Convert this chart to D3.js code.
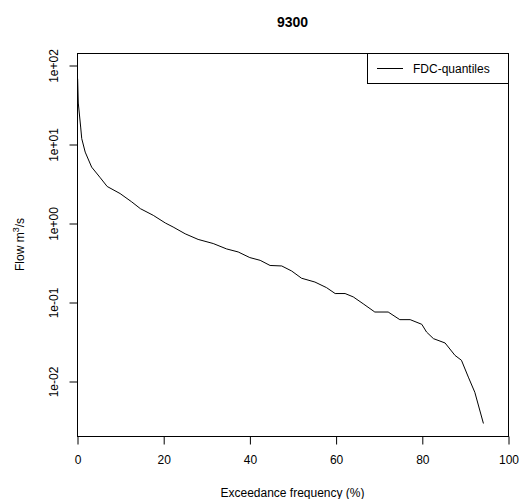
<!DOCTYPE html>
<html>
<head>
<meta charset="utf-8">
<script src="https://cdn.jsdelivr.net/npm/d3@7"></script>
<style>
  body { margin: 0; background: #fff; }
  text { font-family: "Liberation Sans", Arial, sans-serif; fill: #000; }
</style>
</head>
<body>
<div id="chart"></div>
<script>
const TITLE = '9300'
const exceedance = [0.15, 0.3, 0.85, 1.1, 1.9, 3.4, 5.3, 7.0, 10.0, 12.7, 14.7, 17.7, 20.5, 22.3, 25.1, 28.1, 31.6, 34.7, 37.4, 40.1, 42.5, 44.8, 47.5, 49.8, 52.1, 55.2, 57.9, 59.9, 62.2, 64.1, 66.4, 69.1, 72.2, 74.9, 77.3, 80.0, 81.1, 82.7, 85.4, 87.7, 89.2, 90.8, 92.3, 94.3]
const flow = [67, 33, 16.4, 11.7, 7.9, 5.1, 3.8, 2.9, 2.36, 1.85, 1.52, 1.25, 1.0, 0.89, 0.73, 0.62, 0.55, 0.47, 0.43, 0.365, 0.337, 0.29, 0.286, 0.247, 0.2, 0.179, 0.152, 0.128, 0.128, 0.116, 0.095, 0.0747, 0.0747, 0.0598, 0.0598, 0.0522, 0.0417, 0.0344, 0.0303, 0.0211, 0.0183, 0.0112, 0.0072, 0.0029]
const xTicks = [0, 20, 40, 60, 80, 100]
const yTicks = [0.01, 0.1, 1, 10, 100]
const yTickLabels = ['1e-02', '1e-01', '1e+00', '1e+01', '1e+02']
const legendLabel = 'FDC-quantiles'

const W = 520, H = 499
const margin = { left: 77, right: 12, top: 53, bottom: 63 }
const plotW = W - margin.left - margin.right
const plotH = H - margin.top - margin.bottom

const svg = d3.select('#chart')
  .append('svg')
  .attr('width', W)
  .attr('height', H)

const x = d3.scaleLinear().domain([0, 100]).range([0, plotW])
const y = d3.scaleLog().domain([Math.pow(10, -2.696), Math.pow(10, 2.152)]).range([plotH, 0])

const g = svg.append('g')
  .attr('transform', `translate(${margin.left},${margin.top})`)

// curve
const line = d3.line()
  .x((d, i) => x(exceedance[i]))
  .y(d => y(d))

g.append('path')
  .datum(flow)
  .attr('fill', 'none')
  .attr('stroke', '#000')
  .attr('stroke-width', 1)
  .attr('d', line)

// plot box
g.append('rect')
  .attr('x', 0.5)
  .attr('y', 0.5)
  .attr('width', plotW)
  .attr('height', plotH)
  .attr('fill', 'none')
  .attr('stroke', '#000')

// axes
const xAxis = g.append('g')
  .attr('transform', `translate(0.5,${plotH + 0.5})`)
  .call(d3.axisBottom(x).tickValues(xTicks).tickSize(8).tickPadding(11).tickSizeOuter(0))
xAxis.select('.domain').remove()
xAxis.selectAll('text').style('font-size', '12px').attr('font-family', null)

const yAxis = g.append('g')
  .attr('transform', 'translate(0.5,0.5)')
  .call(d3.axisLeft(y).tickValues(yTicks).tickFormat((d, i) => yTickLabels[i]).tickSize(8).tickSizeOuter(0))
yAxis.select('.domain').remove()
yAxis.selectAll('text')
  .style('font-size', '12px')
  .attr('font-family', null)
  .attr('text-anchor', 'middle')
  .attr('x', null)
  .attr('dy', null)
  .attr('transform', 'translate(-24,0) rotate(-90)')
  .attr('dominant-baseline', 'central')

// title
svg.append('text')
  .attr('x', margin.left + plotW / 2)
  .attr('y', 27)
  .attr('text-anchor', 'middle')
  .style('font-size', '14px')
  .style('font-weight', 'bold')
  .text(TITLE)

// axis titles
svg.append('text')
  .attr('x', margin.left + plotW / 2)
  .attr('y', 497)
  .attr('text-anchor', 'middle')
  .style('font-size', '12px')
  .text('Exceedance frequency (%)')

const yt = svg.append('text')
  .attr('transform', `translate(24,${margin.top + plotH / 2}) rotate(-90)`)
  .attr('text-anchor', 'middle')
  .style('font-size', '12px')
yt.append('tspan').text('Flow m')
yt.append('tspan').attr('dy', -5).style('font-size', '9px').text('3')
yt.append('tspan').attr('dy', 5).text('/s')

// legend
const lg = svg.append('g').attr('transform', `translate(367,${margin.top})`)
lg.append('rect')
  .attr('x', 0.5)
  .attr('y', 0.5)
  .attr('width', margin.left + plotW - 367)
  .attr('height', 30)
  .attr('fill', '#fff')
  .attr('stroke', '#000')
lg.append('line')
  .attr('x1', 10).attr('x2', 36)
  .attr('y1', 15.5).attr('y2', 15.5)
  .attr('stroke', '#000')
lg.append('text')
  .attr('x', 46)
  .attr('y', 16)
  .attr('dominant-baseline', 'central')
  .style('font-size', '12px')
  .text(legendLabel)
</script>
</body>
</html>
